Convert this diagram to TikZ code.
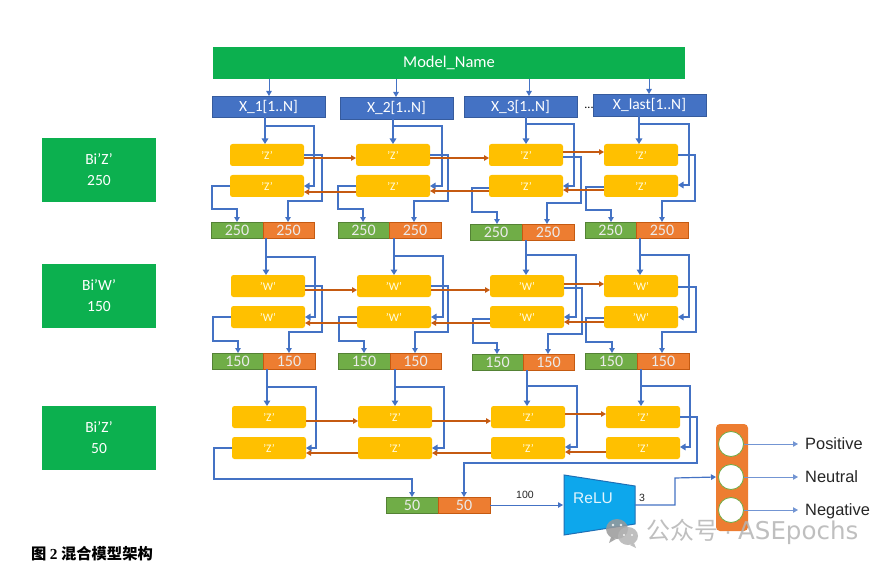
\documentclass[tikz,border=0pt]{standalone}
\usepackage{fontspec}
\setmainfont{Carlito}
\newfontfamily\arial{Liberation Sans}
\newfontfamily\cjk{Noto Sans CJK SC}
\newfontfamily\serifb{Liberation Serif}
\newfontfamily\wmlatin{DejaVu Sans}
\usetikzlibrary{arrows.meta}
\definecolor{topgreen}{HTML}{0CB04F}
\definecolor{xblue}{HTML}{4472C4}
\definecolor{zyellow}{HTML}{FFC000}
\definecolor{pgreen}{HTML}{70AD47}
\definecolor{porange}{HTML}{ED7D31}
\definecolor{aorange}{HTML}{C55A11}
\definecolor{relu}{HTML}{0DA7EC}
\definecolor{relub}{HTML}{1F6FB5}
\definecolor{wm}{HTML}{B4B4B4}
\tikzset{
 topbox/.style={fill=topgreen,draw=none,text=white,inner sep=0pt,outer sep=0pt,anchor=north west},
 xbox/.style={fill=xblue,draw=xblue!80!black,line width=.6pt,text=white,inner sep=0pt,outer sep=0pt,anchor=north west,minimum width=113pt,font=\fontsize{15.5}{17}\selectfont},
 zbox/.style={fill=zyellow,rounded corners=2.5pt,text=white!90!yellow,inner sep=0pt,outer sep=0pt,anchor=north west,minimum width=74pt,minimum height=22pt,font=\fontsize{11.5}{12}\selectfont},
 gbox/.style={fill=pgreen,draw=pgreen!75!black,line width=.5pt,text=white!92!black,inner sep=0pt,outer sep=0pt,anchor=north west,font=\fontsize{16}{18}\selectfont},
 obox/.style={fill=porange,draw=aorange,line width=.5pt,text=white!92!black,inner sep=0pt,outer sep=0pt,anchor=north west,font=\fontsize{16}{18}\selectfont},
 sidebox/.style={fill=topgreen,text=white,align=center,inner sep=0pt,outer sep=0pt,anchor=north west,minimum width=114pt,minimum height=64pt,font=\fontsize{15.5}{21}\selectfont},
 fat/.style={draw=xblue,line width=1.7pt,-{Triangle[length=5.5pt,width=6.5pt]}},
 slim/.style={draw=xblue,line width=1.1pt,-{Triangle[length=5pt,width=5.5pt]}},
 feedtop/.style={draw=xblue,line width=1pt,-{Triangle[length=5pt,width=5.5pt]}},
 orarrow/.style={draw=aorange,line width=1.2pt,-{Triangle[length=5pt,width=5.5pt]}},
 outarrow/.style={draw=xblue!75,line width=.8pt,-{Triangle[length=5pt,width=5.5pt]}},
 lab/.style={font=\arial\fontsize{16.4}{18}\selectfont,text=black!85,anchor=west,inner sep=0pt},
 small/.style={font=\arial\fontsize{10.5}{12}\selectfont,text=black!85,inner sep=0pt},
}
\begin{document}
\begin{tikzpicture}[x=1pt,y=-1pt]
\useasboundingbox (0,0) rectangle (892,567);
\fill[white] (0,0) rectangle (892,567);
% top
\node[topbox,minimum width=472pt,minimum height=32pt,font=\fontsize{16.5}{18}\selectfont] (model) at (213,47) {Model\_Name};
\foreach \n/\x/\y/\h/\t in {1/212/96/21/X\_1[1..N],2/340/97/22/X\_2[1..N],3/464/96/21/X\_3[1..N],4/593/94/22/X\_last[1..N]}
  \node[xbox,minimum height=\h pt] (x\n) at (\x,\y) {\t};
\node[font=\fontsize{12}{12}\selectfont,text=black,inner sep=0pt] (dots) at (589,108) {...};
% side boxes
\node[sidebox] (s1) at (42,138) {Bi'Z'\\250};
\node[sidebox] (s2) at (42,264) {Bi'W'\\150};
\node[sidebox] (s3) at (42,406) {Bi'Z'\\50};
% cells
\foreach \n/\x/\yu/\yl/\t in {
 11/230/144/175/Z,12/356/144/175/Z,13/489/144/175/Z,14/604/144/175/Z,
 21/231/275/306/W,22/357/275/306/W,23/490/275/306/W,24/604/275/306/W,
 31/232/406/437/Z,32/358/406/437/Z,33/491/406/437/Z,34/606/406/437/Z}{
  \node[zbox] (u\n) at (\x,\yu) {'\t'};
  \node[zbox] (l\n) at (\x,\yl) {'\t'};
}
% output pairs
\foreach \n/\a/\b/\c/\y/\h/\t in {
 11/211/263/314/222/16/250,12/338/389/441/222/16/250,13/470/522/574/224/16/250,14/585/636/688/222/16/250,
 21/212/263/315/353/16/150,22/338/390/441/353/16/150,23/472/523/574/354/16/150,24/585/637/689/353/16/150,
 31/386/438/490/497/16/50}{
  \pgfmathsetlengthmacro{\wa}{\b-\a}
  \pgfmathsetlengthmacro{\wb}{\c-\b}
  \node[gbox,minimum width=\wa,minimum height=\h pt] (g\n) at (\a,\y) {\t};
  \node[obox,minimum width=\wb,minimum height=\h pt] (o\n) at (\b,\y) {\t};
}
% arrows from model
\foreach \n/\x in {1/269,2/396,3/529,4/649}
  \draw[feedtop] (\x,0 |- model.south) -- (\x,0 |- x\n.north);
% layer wiring: name/source/feed x/branch y/branch x/side y
\foreach \n/\s/\fx/\by/\bx/\sy in {
 11/x1/265/126/314/186,12/x2/393/126/442/186,13/x3/526/124/574/186,14/x4/639/124/689/185,
 21/o11/266/257/315/317,22/o12/394/256/443/317,23/o13/526/255/576/317,24/o14/640/255/689/317,
 31/o21/267/387/316/448,32/o22/395/387/444/448,33/o23/527/386/577/447,34/o24/641/386/690/447}{
  \draw[fat] (\fx,0 |- \s.south) -- (\fx,0 |- u\n.north);
  \draw[fat] (\fx,\by) -- (\bx,\by) -- (\bx,\sy) -- (l\n.east |- 0,\sy);
}
% upper output to orange half
\foreach \n/\uy/\lx/\ld/\lt in {
 11/155/322/201/288,12/155/448/201/414,13/157/581/203/547,14/155/695/201/662,
 21/286/322/332/289,22/286/448/332/415,23/288/582/334/548,24/287/696/332/662}
  \draw[slim] (u\n.east |- 0,\uy) -- (\lx,\uy) -- (\lx,\ld) -- (\lt,\ld) -- (\lt,0 |- o\n.north);
% lower output to green half
\foreach \n/\wy/\wx/\wd/\wt in {
 11/186/212/209/237,12/186/338/209/363,13/188/472/212/497,14/187/586/210/611,
 21/317/213/341/238,22/317/339/341/364,23/319/473/343/497,24/318/586/342/612}
  \draw[slim] (l\n.west |- 0,\wy) -- (\wx,\wy) -- (\wx,\wd) -- (\wt,\wd) -- (\wt,0 |- g\n.north);
% last layer outputs
\draw[slim] (l31.west |- 0,448) -- (214,448) -- (214,479) -- (412,479) -- (412,0 |- g31.north);
\draw[slim] (u34.east |- 0,417) -- (697,417) -- (697,463) -- (464,463) -- (464,0 |- o31.north);
% forward orange arrows
\foreach \a/\b/\y in {11/12/158,12/13/158,13/14/152,21/22/290,22/23/290,23/24/284,31/32/421,32/33/421,33/34/414}
  \draw[orarrow] (u\a.east |- 0,\y) -- (u\b.west |- 0,\y);
% backward orange arrows
\foreach \a/\b/\y in {12/11/192,13/12/191,14/13/190,22/21/323,23/22/323,24/23/322,32/31/453,33/32/453,34/33/452}
  \draw[orarrow] (l\a.west |- 0,\y) -- (l\b.east |- 0,\y);
% ReLU
\draw[draw=relub,fill=relu,line width=1pt] (564,475) -- (635,486) -- (635,524) -- (564,535) -- cycle;
\node[font=\arial\fontsize{15.5}{17}\selectfont,text=white!88!relu,inner sep=0pt] (relu) at (593,498) {ReLU};
\coordinate (reluout) at (635,505);
\coordinate (reluin) at (563,505);
\draw[slim,line width=1pt] (o31.east |- reluin) -- (reluin);
\node[small] (n100) at (525,495) {100};
\node[small] (n3) at (642,498) {3};
% output layer
\node[fill=porange,rounded corners=4pt,minimum width=32pt,minimum height=107pt,inner sep=0pt,outer sep=0pt,anchor=north west] (outlayer) at (716,424) {};
\foreach \n/\y in {a/444,b/477,c/510}
  \node[circle,fill=white,draw=pgreen,line width=.8pt,minimum size=25pt,inner sep=0pt] (c\n) at (731,\y) {};
\draw[slim,line width=1.2pt] (reluout) -- (675,505) -- (675,478) -- (outlayer.west |- cb);
\node[lab] (pos) at (805,444) {Positive};
\node[lab] (neu) at (805,477) {Neutral};
\node[lab] (neg) at (805,511) {Negative};
\coordinate (ta) at (798,444);
\coordinate (tb) at (798,477);
\coordinate (tc) at (798,510);
\draw[outarrow] (ca.east) -- (ta);
\draw[outarrow] (cb.east) -- (tb);
\draw[outarrow] (cc.east) -- (tc);
% caption
\node[anchor=west,inner sep=0pt,font=\fontsize{15.3}{17}\selectfont,text=black] (cap) at (31,554) {{\cjk\bfseries 图} {\serifb\bfseries 2} {\cjk\bfseries 混合模型架构}};
% watermark
\begin{scope}[opacity=.85]
\fill[wm!85!black] (617,529) ellipse (11pt and 10pt);
\fill[wm!85!black] (611,537) -- (609,543) -- (616,539) -- cycle;
\fill[wm] (628,536) ellipse (10pt and 9pt);
\fill[wm] (634,543) -- (636,548) -- (630,545) -- cycle;
\fill[white] (613,525) circle (1.4pt) (621,525) circle (1.4pt) (624,535) circle (1.2pt) (632,535) circle (1.2pt);
\node[anchor=west,inner sep=0pt,text=wm] (wmt) at (646,532) {{\cjk\fontsize{24}{25}\selectfont 公众号}{\arial\fontsize{24}{25}\selectfont\hspace{6pt}·\hspace{6pt}}{\wmlatin\fontsize{24.5}{25}\selectfont ASEpochs}};
\end{scope}
\end{tikzpicture}
\end{document}
